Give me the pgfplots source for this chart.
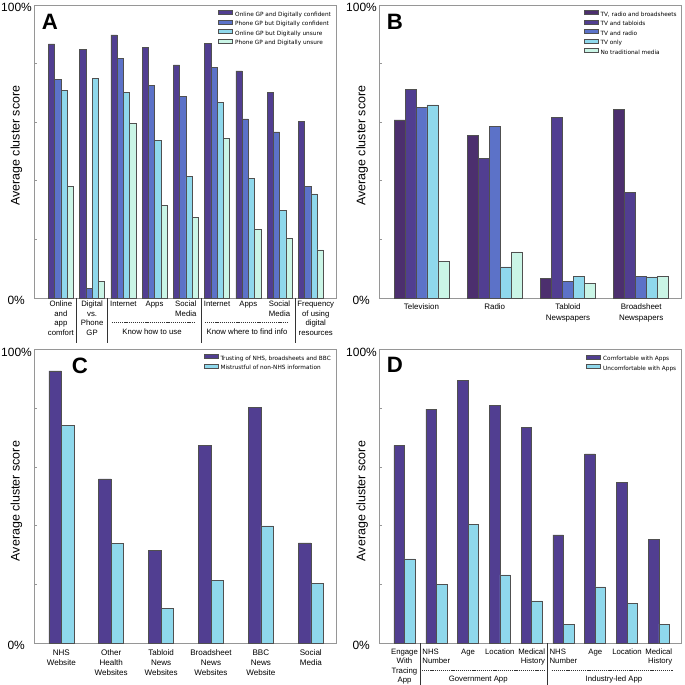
\documentclass[border=0pt]{standalone}
\usepackage{fontspec}
\setmainfont{Liberation Sans}
\newfontfamily\dejavu{DejaVu Sans}
\usepackage{pgfplots}
\pgfplotsset{compat=1.18}

\definecolor{cpurple}{RGB}{81,62,145}
\definecolor{cdark}{RGB}{76,47,110}
\definecolor{cblue}{RGB}{92,114,200}
\definecolor{ccyan}{RGB}{143,216,236}
\definecolor{cmint}{RGB}{202,245,230}
\definecolor{axisgray}{RGB}{150,150,150}
\definecolor{edge}{RGB}{80,80,80}

% multi-line tick label
\newcommand{\TL}[2]{\begin{tabular}[t]{@{}#1@{}}#2\end{tabular}}

\tikzset{
  sep/.style={black!80, line width=0.6bp},
  dsh/.style={black!80, line width=0.5bp, dash pattern=on 1.2bp off 0.9bp},
  letter/.style={anchor=north west, inner sep=0pt, font=\bfseries\fontsize{22.3}{22}\selectfont},
}

\pgfplotsset{
  panel/.style={
    scale only axis, width=302.4bp, anchor=south west,
    ybar, ymin=0, ymax=100,
    ytick={0,20,40,60,80,100},
    yticklabels={\mbox{0\%\hspace{7bp}},,,,,\mbox{100\%}},
    ytick pos=left, tick align=inside, major tick length=2.5bp,
    tick style={axisgray, line width=0.6bp},
    xtick style={draw=none},
    axis line style={axisgray, line width=0.8bp},
    yticklabel style={font=\fontsize{12}{12}\selectfont, inner sep=0pt, xshift=-2.3bp, yshift=-2.5bp, anchor=east},
    ylabel={Average cluster score},
    ylabel style={font=\fontsize{12.5}{13}\selectfont, anchor=center},
    clip=false,
    legend image code/.code={\draw[##1] (0bp,-0.1bp) rectangle (14bp,4.2bp);},
    legend style={anchor=north west, draw=none, fill=none, inner sep=0pt,
      font=\dejavu\fontsize{5.8}{6}\selectfont, row sep=1.7bp,
      nodes={inner xsep=2.5bp, inner ysep=0.5bp, text height=4.4bp, text depth=1.2bp}},
    legend cell align=left,
    every axis plot/.append style={draw=edge, line width=0.5bp},
  },
}

\begin{document}
\begin{tikzpicture}
\path[use as bounding box] (0,0) rectangle (685bp,685bp);

% ---------------- A ----------------
\begin{axis}[panel, at={(34.3bp,387bp)}, height=293bp,
  xmin=-0.85, xmax=8.83, bar width=0.2,
  xtick={0,...,8},
  xticklabels={\TL{c}{Online\\and\\app\\comfort}, \TL{c}{Digital\\vs.\\Phone\\GP}, \TL{c}{Internet}, \TL{c}{Apps}, \TL{r}{Social\\Media}, \TL{c}{Internet}, \TL{c}{Apps}, \TL{r}{Social\\Media}, \hspace*{10bp}\TL{c}{Frequency\\of using\\digital\\resources}},
  xticklabel style={font=\fontsize{7.8}{9.4}\selectfont, inner sep=0pt, anchor=north, yshift=-2.2bp},
  ylabel style={at={(rel axis cs:-0.0595,0.52)}},
  legend style={at={(0.6075,0.983)}},
]
\addplot[fill=cpurple, bar shift=-0.3] coordinates {(0,86.7) (1,84.9) (2,89.8) (3,85.6) (4,79.6) (5,86.8) (6,77.5) (7,70.2) (8,60.2)};
\addlegendentry{Online GP and Digitally confident}
\addplot[fill=cblue, bar shift=-0.1] coordinates {(0,74.6) (1,3.3) (2,81.8) (3,72.6) (4,68.8) (5,78.6) (6,61.1) (7,56.7) (8,38.2)};
\addlegendentry{Phone GP but Digitally confident}
\addplot[fill=ccyan, bar shift=0.1] coordinates {(0,70.9) (1,75.0) (2,70.2) (3,53.9) (4,41.4) (5,66.8) (6,40.7) (7,29.9) (8,35.5)};
\addlegendentry{Online GP but Digitally unsure}
\addplot[fill=cmint, bar shift=0.3] coordinates {(0,38.1) (1,5.7) (2,59.6) (3,31.6) (4,27.5) (5,54.5) (6,23.3) (7,20.4) (8,16.4)};
\addlegendentry{Phone GP and Digitally unsure}
\node[letter] at (rel axis cs:0.0245,0.969) {A};
\draw[sep] (axis cs:0.5,0) -- ([yshift=-45bp]axis cs:0.5,0);
\draw[sep] (axis cs:1.5,0) -- ([yshift=-45bp]axis cs:1.5,0);
\draw[sep] (axis cs:4.5,0) -- ([yshift=-45bp]axis cs:4.5,0);
\draw[sep] (axis cs:7.5,0) -- ([yshift=-45bp]axis cs:7.5,0);
\draw[dsh] ([yshift=-24.7bp]axis cs:1.63,0) -- ([yshift=-24.7bp]axis cs:4.29,0);
\draw[dsh] ([yshift=-24.7bp]axis cs:4.61,0) -- ([yshift=-24.7bp]axis cs:7.27,0);
\node[font=\fontsize{7.8}{9}\selectfont] at ([yshift=-34bp]axis cs:2.92,0) {Know how to use};
\node[font=\fontsize{7.8}{9}\selectfont] at ([yshift=-34bp]axis cs:5.96,0) {Know where to find info};
\end{axis}

% ---------------- B ----------------
\begin{axis}[panel, at={(379.3bp,387bp)}, height=293bp,
  xmin=-0.576, xmax=3.553, bar width=0.15,
  xtick={0,...,3},
  xticklabels={\TL{c}{Television}, \TL{c}{Radio}, \TL{c}{Tabloid\\Newspapers}, \TL{c}{Broadsheet\\Newspapers}},
  xticklabel style={font=\fontsize{8}{10.7}\selectfont, inner sep=0pt, anchor=north, yshift=-3.8bp},
  ylabel style={at={(rel axis cs:-0.057,0.52)}},
  legend style={at={(0.6746,0.983)}},
]
\addplot[fill=cdark, bar shift=-0.3] coordinates {(0,60.8) (1,55.6) (2,6.8) (3,64.4)};
\addlegendentry{TV, radio and broadsheets}
\addplot[fill=cpurple, bar shift=-0.15] coordinates {(0,71.2) (1,47.6) (2,61.6) (3,36.1)};
\addlegendentry{TV and tabloids}
\addplot[fill=cblue, bar shift=0] coordinates {(0,65.0) (1,58.5) (2,5.8) (3,7.4)};
\addlegendentry{TV and radio}
\addplot[fill=ccyan, bar shift=0.15] coordinates {(0,65.9) (1,10.6) (2,7.5) (3,7.2)};
\addlegendentry{TV only}
\addplot[fill=cmint, bar shift=0.3] coordinates {(0,12.6) (1,15.7) (2,5.0) (3,7.5)};
\addlegendentry{No traditional media}
\node[letter] at (rel axis cs:0.0245,0.969) {B};
\end{axis}

% ---------------- C ----------------
\begin{axis}[panel, at={(34.3bp,41.7bp)}, height=293.8bp,
  xmin=-0.541, xmax=5.519, bar width=0.25,
  xtick={0,...,5},
  xticklabels={\TL{c}{NHS\\Website}, \TL{c}{Other\\Health\\Websites}, \TL{c}{Tabloid\\News\\Websites}, \TL{c}{Broadsheet\\News\\Websites}, \TL{c}{BBC\\News\\Website}, \TL{c}{Social\\Media}},
  xticklabel style={font=\fontsize{8.1}{10}\selectfont, inner sep=0pt, anchor=north, yshift=-4.9bp},
  ylabel style={at={(rel axis cs:-0.0595,0.484)}},
  legend style={at={(0.5589,0.985)}},
]
\addplot[fill=cpurple, bar shift=-0.125] coordinates {(0,92.7) (1,56.0) (2,31.7) (3,67.4) (4,80.3) (5,34.2)};
\addlegendentry{Trusting of NHS, broadsheets and BBC}
\addplot[fill=ccyan, bar shift=0.125] coordinates {(0,74.1) (1,34.0) (2,11.9) (3,21.3) (4,40.0) (5,20.4)};
\addlegendentry{Mistrustful of non-NHS information}
\node[letter] at (rel axis cs:0.124,0.973) {C};
\end{axis}

% ---------------- D ----------------
\begin{axis}[panel, at={(379.3bp,41.7bp)}, height=293.8bp,
  xmin=-0.792, xmax=8.72, bar width=0.33,
  xtick={0,...,8},
  xticklabels={\TL{c}{Engage\\With\\Tracing\\App}, \TL{l}{NHS\\Number}, \TL{c}{Age}, \TL{c}{Location}, \TL{r}{Medical\\History}, \TL{l}{NHS\\Number}, \TL{c}{Age}, \TL{c}{Location}, \TL{r}{Medical\\History}},
  xticklabel style={font=\fontsize{7.8}{9.4}\selectfont, inner sep=0pt, anchor=north, yshift=-4.4bp},
  ylabel style={at={(rel axis cs:-0.057,0.484)}},
  legend style={at={(0.6835,0.983)}},
]
\addplot[fill=cpurple, bar shift=-0.165] coordinates {(0,67.4) (1,79.7) (2,89.6) (3,81.1) (4,73.6) (5,36.9) (6,64.5) (7,54.9) (8,35.5)};
\addlegendentry{Comfortable with Apps}
\addplot[fill=ccyan, bar shift=0.165] coordinates {(0,28.7) (1,20.1) (2,40.5) (3,23.3) (4,14.4) (5,6.5) (6,19.2) (7,13.7) (8,6.5)};
\addlegendentry{Uncomfortable with Apps}
\node[letter] at (rel axis cs:0.0245,0.973) {D};
\draw[sep] (axis cs:0.5,0) -- ([yshift=-41.7bp]axis cs:0.5,0);
\draw[sep] (axis cs:4.5,0) -- ([yshift=-41.7bp]axis cs:4.5,0);
\draw[dsh] ([yshift=-26.5bp]axis cs:0.55,0) -- ([yshift=-26.5bp]axis cs:4.42,0);
\draw[dsh] ([yshift=-26.5bp]axis cs:4.63,0) -- ([yshift=-26.5bp]axis cs:8.44,0);
\node[font=\fontsize{7.8}{9}\selectfont] at ([yshift=-36.3bp]axis cs:2.32,0) {Government App};
\node[font=\fontsize{7.8}{9}\selectfont] at ([yshift=-36.3bp]axis cs:6.59,0) {Industry-led App};
\end{axis}
\end{tikzpicture}
\end{document}
